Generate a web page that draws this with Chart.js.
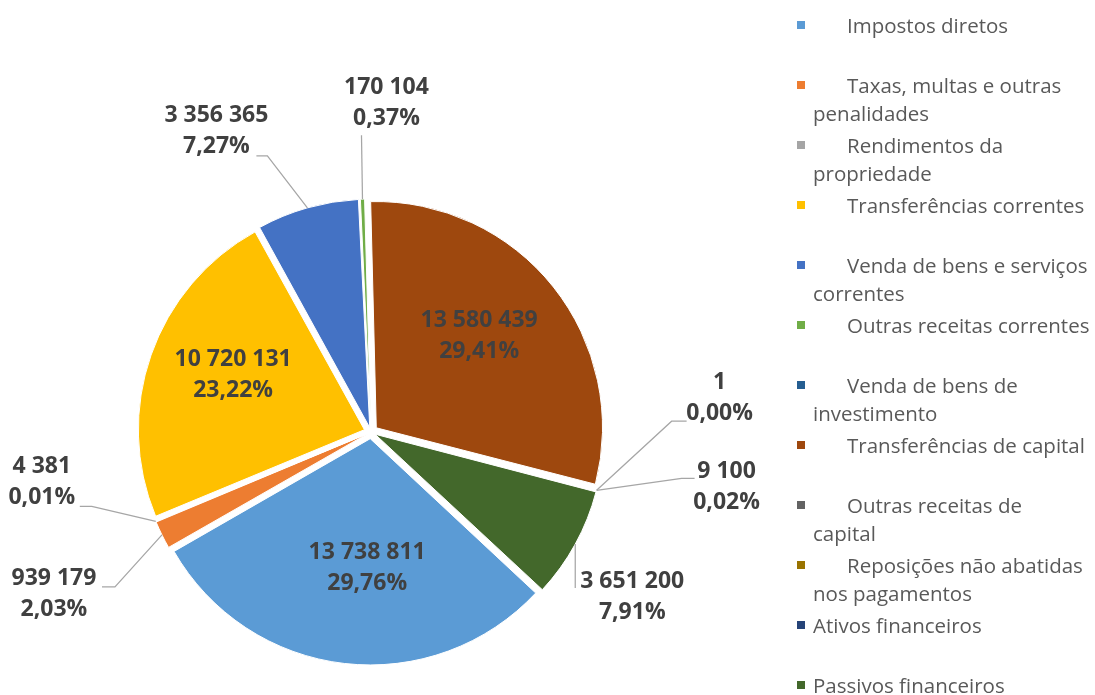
<!DOCTYPE html>
<html>
<head>
<meta charset="utf-8">
<script src="https://cdn.jsdelivr.net/npm/chart.js@4.4.1/dist/chart.umd.min.js"></script>
<style>
  body { margin: 0; background: #fff; }
  #wrap { position: relative; width: 1095px; height: 695px; }
  #legend { position: absolute; left: 813px; top: 0; width: 282px; font-family: "Open Sans"; font-size: 20.5px; color: #595959; }
  .item { position: absolute; left: 0; line-height: 28px; }
  .box { position: absolute; left: -16px; top: 10px; width: 8px; height: 8px; }
</style>
</head>
<body>
<div id="wrap">
  <canvas id="chart" width="1095" height="695"></canvas>
  <div id="legend"></div>
</div>
<script>
// Receitas por classificação económica
const categories = [
  "Impostos diretos",
  "Taxas, multas e outras penalidades",
  "Rendimentos da propriedade",
  "Transferências correntes",
  "Venda de bens e serviços correntes",
  "Outras receitas correntes",
  "Venda de bens de investimento",
  "Transferências de capital",
  "Outras receitas de capital",
  "Reposições não abatidas nos pagamentos",
  "Ativos financeiros",
  "Passivos financeiros"
];
const values = [13738811, 939179, 4381, 10720131, 3356365, 170104, 0, 13580439, 1, 9100, 0, 3651200];
const colors = ["#5B9BD5", "#ED7D31", "#A5A5A5", "#FFC000", "#4472C4", "#70AD47",
                "#255E91", "#9E480E", "#636363", "#997300", "#264478", "#43682B"];

// how far each slice is pulled out of the centre (px)
const EXPLODE = 7;

// label placement: inside = nudge from the default inner spot,
// otherwise offsets from the slice's outer edge point for the text and leader line
const labelPlaces = [
  { inside: [13, -10] },
  { text: [-108, 59], path: [[-47, 52], [-60, 52]] },
  { text: [-114, -39], path: [[-64, -15], [-76, -15]] },
  { inside: [1, -8] },
  { text: [-91, -77], path: [[-40, -52], [-51, -52]] },
  { text: [24, -96], path: [[-1, -64]] },
  null,
  { inside: [-7, -4] },
  { text: [123, -92], path: [[75, -69], [90, -69]] },
  { text: [130, -3], path: [[85, -12], [98, -12]] },
  null,
  { text: [57, 53], path: [[0, 44]] }
];
// legend text: first-line indent and wrap width per entry
const legendIndent = [34, 34, 34, 34, 34, 34, 34, 34, 34, 34, 0, 0];
const legendWidth = [282, 282, 282, 282, 282, 282, 282, 282, 262, 282, 282, 282];

function total() {
  return values.reduce((a, b) => a + b, 0);
}

function formatValue(v) {
  return String(v).replace(/\B(?=(\d{3})+(?!\d))/g, " ");
}

function formatPct(v) {
  return (v / total() * 100).toFixed(2).replace(".", ",") + "%";
}

// chart.js moves an arc by offset/4*(1+fix); undo that so every slice moves EXPLODE px
function sliceOffset(context) {
  if (context.dataIndex === undefined) return 0;
  const circ = values[context.dataIndex] / total() * 2 * Math.PI;
  const fix = 1 - Math.sin(Math.min(Math.PI, circ));
  return 4 * EXPLODE / (1 + fix);
}

const labelPlugin = {
  id: "sliceLabels",
  afterDatasetsDraw(chart) {
    const ctx = chart.ctx;
    const arcs = chart.getDatasetMeta(0).data;
    ctx.save();
    ctx.font = 'bold 23px "Open Sans"';
    ctx.fillStyle = "#404040";
    ctx.strokeStyle = "#A6A6A6";
    ctx.lineWidth = 1.25;
    ctx.textAlign = "center";
    ctx.textBaseline = "middle";
    arcs.forEach((arc, i) => {
      const place = labelPlaces[i];
      if (!place) return;
      const mid = (arc.startAngle + arc.endAngle) / 2;
      const cx = Math.cos(mid), cy = Math.sin(mid);
      let tx, ty;
      if (place.inside) {
        const rr = arc.outerRadius * 0.62 + EXPLODE;
        tx = arc.x + cx * rr + place.inside[0];
        ty = arc.y + cy * rr + place.inside[1];
      } else {
        const rr = arc.outerRadius + EXPLODE;
        const ax = arc.x + cx * rr, ay = arc.y + cy * rr;
        ctx.beginPath();
        ctx.moveTo(ax, ay);
        place.path.forEach(p => ctx.lineTo(ax + p[0], ay + p[1]));
        ctx.stroke();
        tx = ax + place.text[0];
        ty = ay + place.text[1];
      }
      ctx.fillText(formatValue(values[i]), tx, ty - 15.5);
      ctx.fillText(formatPct(values[i]), tx, ty + 15.5);
    });
    ctx.restore();
  }
};

function buildLegend() {
  const legend = document.getElementById("legend");
  categories.forEach((name, i) => {
    const item = document.createElement("div");
    item.className = "item";
    item.style.top = (11 + i * 60) + "px";
    item.style.width = legendWidth[i] + "px";
    item.style.textIndent = legendIndent[i] + "px";
    const box = document.createElement("span");
    box.className = "box";
    box.style.background = colors[i];
    item.appendChild(box);
    item.appendChild(document.createTextNode(name));
    legend.appendChild(item);
  });
}

function main() {
  const ctx = document.getElementById("chart").getContext("2d");
  new Chart(ctx, {
    type: "pie",
    data: {
      labels: categories,
      datasets: [{
        data: values,
        backgroundColor: colors,
        borderColor: "#FFFFFF",
        borderWidth: 1,
        offset: sliceOffset,
        radius: 226
      }]
    },
    options: {
      responsive: false,
      animation: false,
      events: [],
      rotation: 133,
      layout: { padding: { left: 141, right: 494, top: 202, bottom: 33 } },
      plugins: {
        legend: { display: false },
        tooltip: { enabled: false }
      }
    },
    plugins: [labelPlugin]
  });
  buildLegend();
}

main();
</script>
</body>
</html>
